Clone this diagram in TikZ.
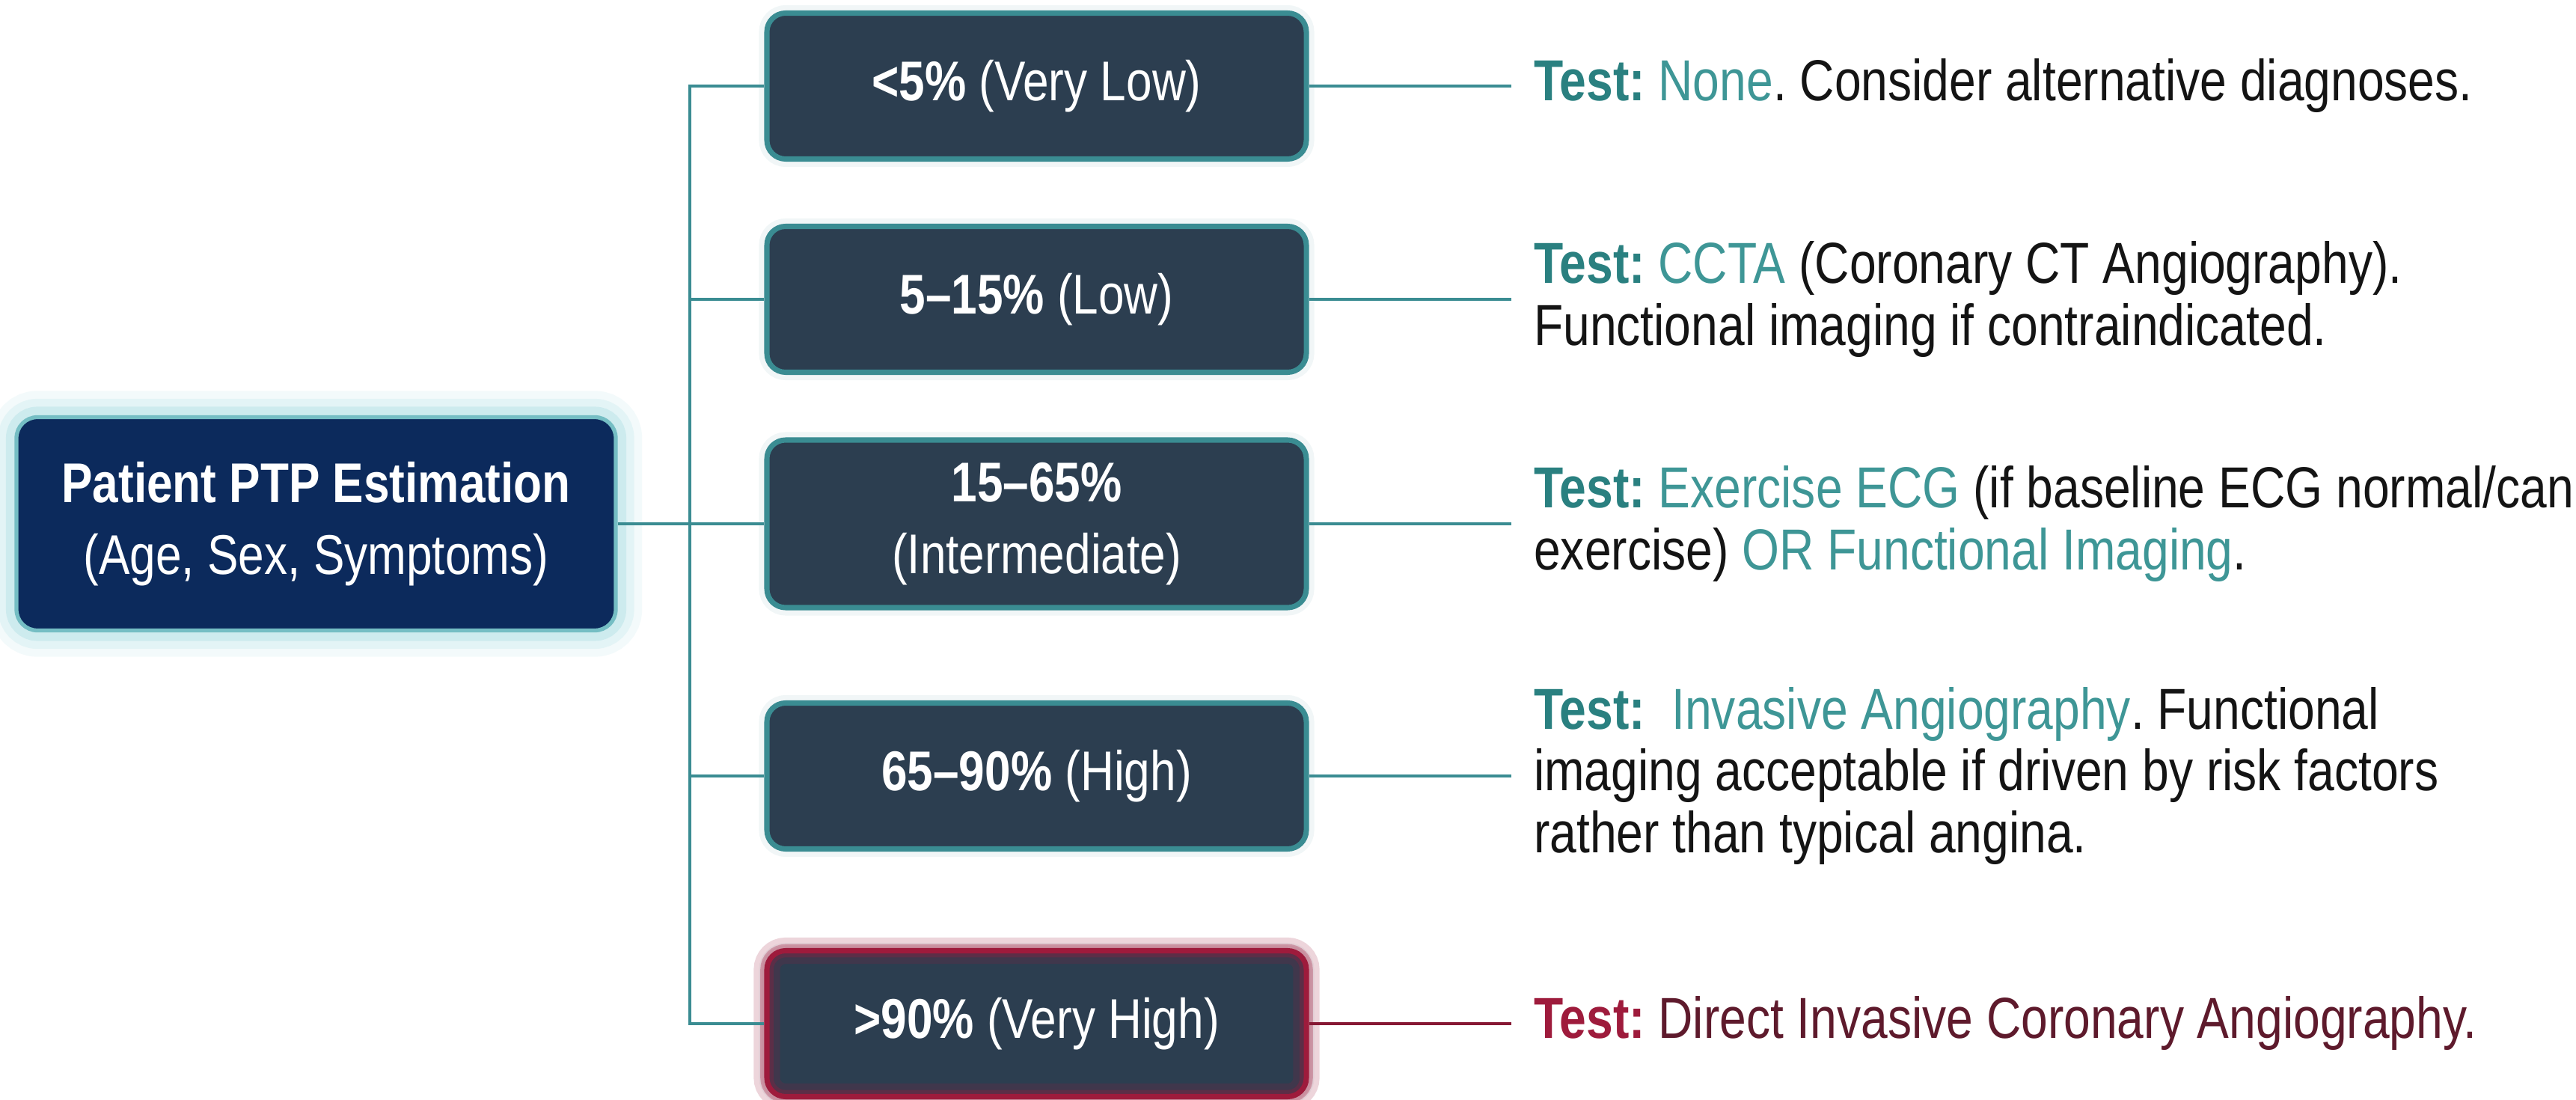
\documentclass[tikz,border=0pt]{standalone}
\usepackage{fontspec}
\setmainfont{Liberation Sans}[FakeStretch=0.83]
\usetikzlibrary{calc}
\frenchspacing

\definecolor{navy}{HTML}{0C2A5C}
\definecolor{slate}{HTML}{2C3E50}
\definecolor{tealline}{HTML}{3A8C92}
\definecolor{tealtext}{HTML}{2A8080}
\definecolor{tealhi}{HTML}{3E9696}
\definecolor{crimson}{HTML}{9E1B3C}
\definecolor{maroon}{HTML}{5E1A2C}
\definecolor{glow}{HTML}{8ED3DA}

\newcommand\testlbl{\textcolor{tealtext}{\textbf{Test:}}}
\newcommand\hiterm[1]{\textcolor{tealhi}{#1}}

\tikzset{
  boxfont/.style={font=\fontsize{21.3}{27.5}\selectfont},
  rootbox/.style={boxfont, rounded corners=0.28cm, fill=navy,
    draw=glow!70!tealline, line width=1.5pt, text=white, align=center,
    minimum width=8.01cm, minimum height=2.85cm,
    preaction={draw=glow, line width=20pt, opacity=0.10},
    preaction={draw=glow, line width=14pt, opacity=0.15},
    preaction={draw=glow, line width=8pt, opacity=0.25}},
  levelbox/.style={boxfont, rounded corners=0.25cm, fill=slate,
    draw=tealline, line width=2pt, text=white, align=center,
    minimum width=7.21cm, minimum height=1.95cm,
    preaction={draw=tealline, line width=6pt, opacity=0.07}},
  redbox/.style={levelbox, draw=crimson,
    preaction={draw=crimson, line width=4pt, opacity=0.06},
    postaction={draw=crimson, line width=10pt, opacity=0.18},
    postaction={draw=crimson, line width=5pt, opacity=0.3}},
  wire/.style={draw=tealline, line width=1.3pt},
  redwire/.style={draw=crimson!85!black, line width=1.3pt},
  note/.style={anchor=west, align=left, inner sep=0pt, text=black!92,
    font=\fontsize{22}{23.6}\selectfont}
}

\begin{document}
\begin{tikzpicture}
  % canvas
  \path[fill=white] (0,0) rectangle (34.43,-14.70);
  \useasboundingbox (0,0) rectangle (34.43,-14.70);

  % root estimate
  \node[rootbox] (root) at (4.225,-7.00)
    {\textbf{Patient PTP Estimation}\\(Age, Sex, Symptoms)};

  % probability bands
  \node[levelbox] (b1) at (13.855,-1.15) {\textbf{<5\%} (Very Low)};
  \node[levelbox] (b2) at (13.855,-4.00) {\textbf{5–15\%} (Low)};
  \node[levelbox, minimum height=2.24cm] (b3) at (13.855,-7.00)
    {\textbf{15–65\%}\\(Intermediate)};
  \node[levelbox] (b4) at (13.855,-10.37) {\textbf{65–90\%} (High)};
  \node[redbox] (b5) at (13.855,-13.68) {\textbf{>90\%} (Very High)};

  % tree connectors
  \coordinate (jn) at (9.22,-7.00);
  \draw[wire] (root.east) -- (b3.west);
  \draw[wire] (b1.west) -| (jn);
  \draw[wire] (b5.west) -| (jn);
  \draw[wire] (b2.west) -- (b2.west -| jn);
  \draw[wire] (b4.west) -- (b4.west -| jn);

  % recommendation leads
  \foreach \i in {1,...,4} {
    \coordinate (e\i) at ($(b\i.east)+(2.70,0)$);
    \draw[wire] (b\i.east) -- (e\i);
  }
  \coordinate (e5) at ($(b5.east)+(2.70,0)$);
  \draw[redwire] (b5.east) -- (e5);

  % recommendations
  \node[note] (t1) at ($(e1)+(0.30,0)$)
    {\testlbl{} \hiterm{None}. Consider alternative diagnoses.};
  \node[note] (t2) at ($(e2)+(0.30,0)$)
    {\testlbl{} \hiterm{CCTA} (Coronary CT Angiography).\\
     Functional imaging if contraindicated.};
  \node[note] (t3) at ($(e3)+(0.30,0)$)
    {\testlbl{} \hiterm{Exercise ECG} (if baseline ECG normal/can\\
     exercise) \hiterm{OR Functional Imaging}.};
  \node[note] (t4) at ($(e4)+(0.30,0)$)
    {\testlbl{}\ \ \hiterm{Invasive Angiography}. Functional\\
     imaging acceptable if driven by risk factors\\
     rather than typical angina.};
  \node[note] (t5) at ($(e5)+(0.30,0)$)
    {\textcolor{crimson}{\textbf{Test:}} \textcolor{maroon}{Direct Invasive Coronary Angiography.}};
\end{tikzpicture}
\end{document}
